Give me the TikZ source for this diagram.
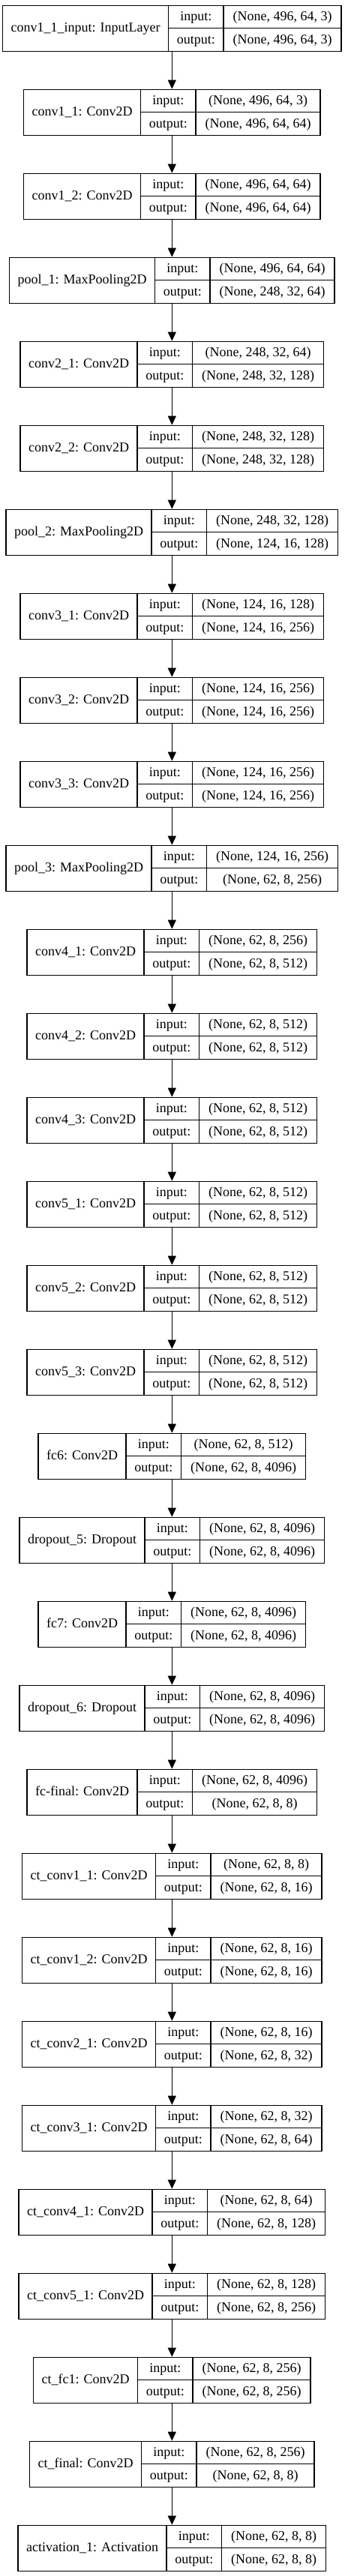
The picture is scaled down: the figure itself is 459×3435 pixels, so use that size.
\documentclass[tikz,border=0pt]{standalone}
\usepackage{fontspec}
\setmainfont{Liberation Serif}
\usetikzlibrary{arrows.meta}
\newlength\lwA \newlength\lwB \newlength\lwC \newlength\lwD
\newcommand\myfont{\normalfont\fontsize{18pt}{22pt}\selectfont}
\tikzset{
  recbox/.style={draw=black, line width=1.3pt, inner sep=0pt, minimum height=61pt},
  celltxt/.style={inner sep=0pt, text height=12pt, text depth=2pt, font=\myfont},
  cellline/.style={draw=black, line width=1.3pt},
  flow/.style={draw=black, line width=1.3pt, -{Triangle[length=12pt,width=11pt]}},
}
\newcommand\layer[4]{%
  \pgfinterruptpicture
  \setbox0\hbox{\myfont #2}\global\lwA=\wd0
  \setbox0\hbox{\myfont output:}\global\lwB=\wd0
  \setbox0\hbox{\myfont #3}\global\lwC=\wd0
  \setbox0\hbox{\myfont #4}\global\lwD=\wd0
  \endpgfinterruptpicture
  \ifdim\lwD>\lwC \global\lwC=\lwD\fi
  \pgfmathsetmacro\wA{\the\lwA+22}%
  \pgfmathsetmacro\wB{\the\lwB+22.5}%
  \pgfmathsetmacro\wC{\the\lwC+25}%
  \pgfmathsetmacro\tot{\wA+\wB+\wC}%
  \pgfmathsetmacro\xl{229.3-\tot/2}%
  \pgfmathsetmacro\xa{\xl+\wA}%
  \pgfmathsetmacro\xb{\xa+\wB}%
  \pgfmathsetmacro\xr{\xl+\tot}%
  \pgfmathsetmacro\yt{7.3+112*#1}%
  \pgfmathsetmacro\ym{\yt+30.5}%
  \pgfmathsetmacro\yb{\yt+61}%
  \node[recbox, minimum width=\tot pt] (L#1) at (229.3,\ym) {};
  \node[celltxt] (L#1t) at ({(\xl+\xa)/2},\ym) {#2};
  \node[celltxt] (L#1i) at ({(\xa+\xb)/2},{(\yt+\ym)/2}) {input:};
  \node[celltxt] (L#1o) at ({(\xa+\xb)/2},{(\ym+\yb)/2}) {output:};
  \node[celltxt] (L#1iv) at ({(\xb+\xr)/2},{(\yt+\ym)/2}) {#3};
  \node[celltxt] (L#1ov) at ({(\xb+\xr)/2},{(\ym+\yb)/2}) {#4};
  \draw[cellline] (\xa,\yt) -- (\xa,\yb) (\xb,\yt) -- (\xb,\yb) (\xa,\ym) -- (\xr,\ym);
}
\begin{document}
\begin{tikzpicture}[x=1pt,y=-1pt]
\fill[white] (0,0) rectangle (459,3435);
\useasboundingbox (0,0) rectangle (459,3435);
\layer{0}{conv1\_1\_input: InputLayer}{(None, 496, 64, 3)}{(None, 496, 64, 3)}
\layer{1}{conv1\_1: Conv2D}{(None, 496, 64, 3)}{(None, 496, 64, 64)}
\layer{2}{conv1\_2: Conv2D}{(None, 496, 64, 64)}{(None, 496, 64, 64)}
\layer{3}{pool\_1: MaxPooling2D}{(None, 496, 64, 64)}{(None, 248, 32, 64)}
\layer{4}{conv2\_1: Conv2D}{(None, 248, 32, 64)}{(None, 248, 32, 128)}
\layer{5}{conv2\_2: Conv2D}{(None, 248, 32, 128)}{(None, 248, 32, 128)}
\layer{6}{pool\_2: MaxPooling2D}{(None, 248, 32, 128)}{(None, 124, 16, 128)}
\layer{7}{conv3\_1: Conv2D}{(None, 124, 16, 128)}{(None, 124, 16, 256)}
\layer{8}{conv3\_2: Conv2D}{(None, 124, 16, 256)}{(None, 124, 16, 256)}
\layer{9}{conv3\_3: Conv2D}{(None, 124, 16, 256)}{(None, 124, 16, 256)}
\layer{10}{pool\_3: MaxPooling2D}{(None, 124, 16, 256)}{(None, 62, 8, 256)}
\layer{11}{conv4\_1: Conv2D}{(None, 62, 8, 256)}{(None, 62, 8, 512)}
\layer{12}{conv4\_2: Conv2D}{(None, 62, 8, 512)}{(None, 62, 8, 512)}
\layer{13}{conv4\_3: Conv2D}{(None, 62, 8, 512)}{(None, 62, 8, 512)}
\layer{14}{conv5\_1: Conv2D}{(None, 62, 8, 512)}{(None, 62, 8, 512)}
\layer{15}{conv5\_2: Conv2D}{(None, 62, 8, 512)}{(None, 62, 8, 512)}
\layer{16}{conv5\_3: Conv2D}{(None, 62, 8, 512)}{(None, 62, 8, 512)}
\layer{17}{fc6: Conv2D}{(None, 62, 8, 512)}{(None, 62, 8, 4096)}
\layer{18}{dropout\_5: Dropout}{(None, 62, 8, 4096)}{(None, 62, 8, 4096)}
\layer{19}{fc7: Conv2D}{(None, 62, 8, 4096)}{(None, 62, 8, 4096)}
\layer{20}{dropout\_6: Dropout}{(None, 62, 8, 4096)}{(None, 62, 8, 4096)}
\layer{21}{fc-final: Conv2D}{(None, 62, 8, 4096)}{(None, 62, 8, 8)}
\layer{22}{ct\_conv1\_1: Conv2D}{(None, 62, 8, 8)}{(None, 62, 8, 16)}
\layer{23}{ct\_conv1\_2: Conv2D}{(None, 62, 8, 16)}{(None, 62, 8, 16)}
\layer{24}{ct\_conv2\_1: Conv2D}{(None, 62, 8, 16)}{(None, 62, 8, 32)}
\layer{25}{ct\_conv3\_1: Conv2D}{(None, 62, 8, 32)}{(None, 62, 8, 64)}
\layer{26}{ct\_conv4\_1: Conv2D}{(None, 62, 8, 64)}{(None, 62, 8, 128)}
\layer{27}{ct\_conv5\_1: Conv2D}{(None, 62, 8, 128)}{(None, 62, 8, 256)}
\layer{28}{ct\_fc1: Conv2D}{(None, 62, 8, 256)}{(None, 62, 8, 256)}
\layer{29}{ct\_final: Conv2D}{(None, 62, 8, 256)}{(None, 62, 8, 8)}
\layer{30}{activation\_1: Activation}{(None, 62, 8, 8)}{(None, 62, 8, 8)}
\foreach \i in {0,...,29}{
  \pgfmathtruncatemacro\nxt{\i+1}
  \draw[flow] (L\i.south) -- (L\nxt.north);
}
\end{tikzpicture}
\end{document}
